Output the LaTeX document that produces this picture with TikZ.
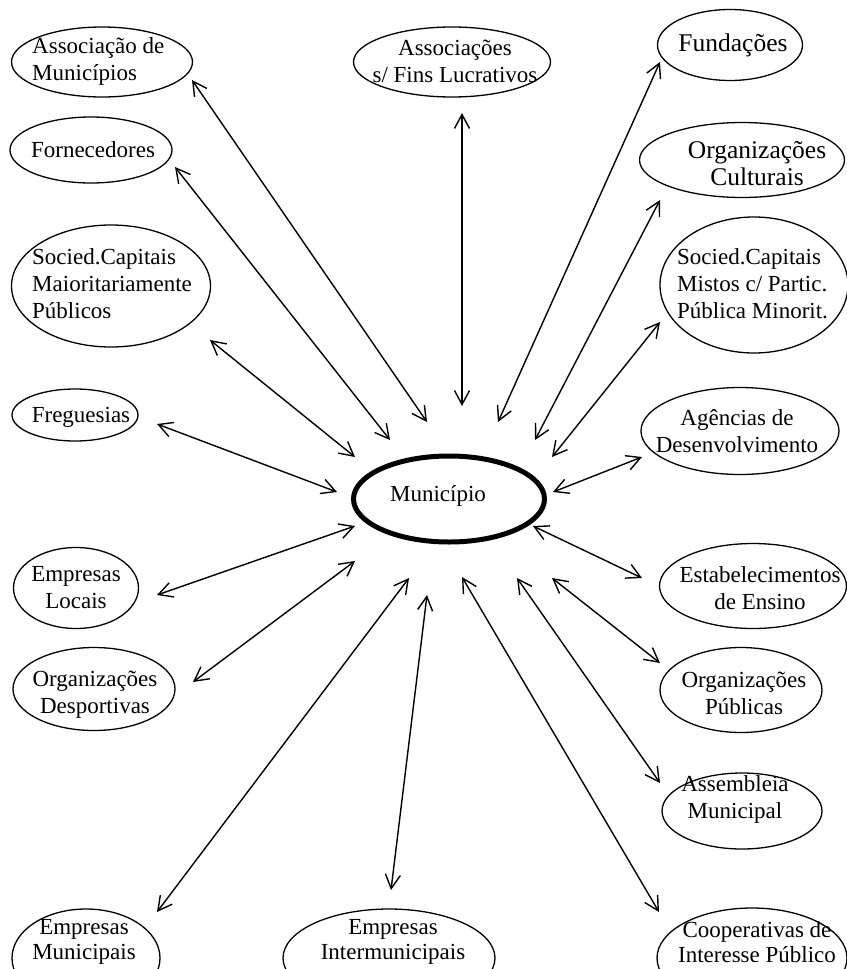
\documentclass[tikz,border=0pt]{standalone}
\usepackage{fontspec}
\setmainfont{Liberation Serif}
\usetikzlibrary{shapes.geometric,arrows.meta}
\newcommand\lbfont{\fontsize{23}{27}\selectfont}
\newcommand\lbbig{\fontsize{25.5}{27}\selectfont}
\newcommand\lbtight{\fontsize{23}{25}\selectfont}
\tikzset{
  ell/.style={draw, ellipse, line width=1.3pt, inner sep=0pt},
  lbl/.style={font=\lbfont, align=center, inner sep=0pt},
  lbll/.style={font=\lbfont, align=left, inner sep=0pt, anchor=west},
  link/.style={line width=1.4pt,
    {Straight Barb[length=14pt,width=15pt,line width=1.4pt]}-{Straight Barb[length=14pt,width=15pt,line width=1.4pt]}},
}
\begin{document}
\begin{tikzpicture}[x=1pt,y=-1pt]
\useasboundingbox (0,0) rectangle (846,969);
% ellipses
\node[ell, minimum width=181pt, minimum height=70pt] (e1) at (102,62) {};
\node[ell, minimum width=197pt, minimum height=70pt] (e2) at (452,62) {};
\node[ell, minimum width=145pt, minimum height=71pt] (e3) at (730,45) {};
\node[ell, minimum width=162pt, minimum height=66pt] (e4) at (91,150) {};
\node[ell, minimum width=205pt, minimum height=75pt] (e5) at (742,160) {};
\node[ell, minimum width=199pt, minimum height=122pt] (e6) at (111,286) {};
\node[ell, minimum width=188pt, minimum height=136pt] (e7) at (754,285) {};
\node[ell, minimum width=126pt, minimum height=52pt] (e8) at (75,415) {};
\node[ell, minimum width=198pt, minimum height=87pt] (e9) at (740,431) {};
\node[ell, line width=5pt, minimum width=191pt, minimum height=86pt] (e10) at (449,499) {};
\node[ell, minimum width=125pt, minimum height=81pt] (e11) at (76,588) {};
\node[ell, minimum width=162pt, minimum height=83pt] (e12) at (94,689) {};
\node[ell, minimum width=187pt, minimum height=85pt] (e13) at (753,586) {};
\node[ell, minimum width=162pt, minimum height=85pt] (e14) at (741,690) {};
\node[ell, minimum width=160pt, minimum height=76pt] (e15) at (742,811) {};
\node[ell, minimum width=148pt, minimum height=98pt] (e16) at (86,958) {};
\node[ell, minimum width=212pt, minimum height=98pt] (e17) at (389,958) {};
\node[ell, minimum width=190pt, minimum height=100pt] (e18) at (752,958) {};
% labels
\node[lbll] (t1) at (32,61.5) {Associação de\\Municípios};
\node[lbl] (t2) at (455,61.5) {Associações\\s/ Fins Lucrativos};
\node[lbl, font=\lbbig] (t3) at (733,45) {Fundações};
\node[lbl] (t4) at (93,150) {Fornecedores};
\node[lbl, font=\lbbig] (t5) at (757,164) {Organizações\\Culturais};
\node[lbll] (t6) at (32,284) {Socied.Capitais\\Maioritariamente\\Públicos};
\node[lbll] (t7) at (677,284) {Socied.Capitais\\Mistos c/ Partic.\\Pública Minorit.};
\node[lbl] (t8) at (81,417) {Freguesias};
\node[lbl] (t9) at (737,431) {Agências de\\Desenvolvimento};
\node[lbl] (t10) at (438,496) {Município};
\node[lbl] (t11) at (76,588) {Empresas\\Locais};
\node[lbl] (t12) at (95,695) {Organizações\\Desportivas};
\node[lbl] (t13) at (760,588) {Estabelecimentos\\de Ensino};
\node[lbl] (t14) at (744,693) {Organizações\\Públicas};
\node[lbl] (t15) at (735,799) {Assembleia\\Municipal};
\node[lbl, font=\lbtight] (t16) at (84,942) {Empresas\\Municipais};
\node[lbl, font=\lbtight] (t17) at (393,942) {Empresas\\Intermunicipais};
\node[lbl, font=\lbtight] (t18) at (757,942) {Cooperativas de\\Interesse Público};
% connector end points
\coordinate (a1s) at (192,80);   \coordinate (a1e) at (427,422);
\coordinate (a2s) at (462,113);  \coordinate (a2e) at (462,406);
\coordinate (a3s) at (660,62);   \coordinate (a3e) at (498,422);
\coordinate (a4s) at (175,167);  \coordinate (a4e) at (390,440);
\coordinate (a5s) at (660,200);  \coordinate (a5e) at (535,440);
\coordinate (a6s) at (210,340);  \coordinate (a6e) at (355,457);
\coordinate (a7s) at (660,322);  \coordinate (a7e) at (552,457);
\coordinate (a8s) at (157,424);  \coordinate (a8e) at (337,492);
\coordinate (a9s) at (642,457);  \coordinate (a9e) at (553,492);
\coordinate (a10s) at (157,595); \coordinate (a10e) at (355,526);
\coordinate (a11s) at (193,682); \coordinate (a11e) at (355,561);
\coordinate (a12s) at (642,578); \coordinate (a12e) at (533,526);
\coordinate (a13s) at (660,663); \coordinate (a13e) at (552,578);
\coordinate (a14s) at (660,783); \coordinate (a14e) at (517,578);
\coordinate (a15s) at (157,912); \coordinate (a15e) at (409,578);
\coordinate (a16s) at (391,890); \coordinate (a16e) at (427,595);
\coordinate (a17s) at (659,912); \coordinate (a17e) at (462,577);
\foreach \i in {1,...,17} { \draw[link] (a\i s) -- (a\i e); }
\end{tikzpicture}
\end{document}
